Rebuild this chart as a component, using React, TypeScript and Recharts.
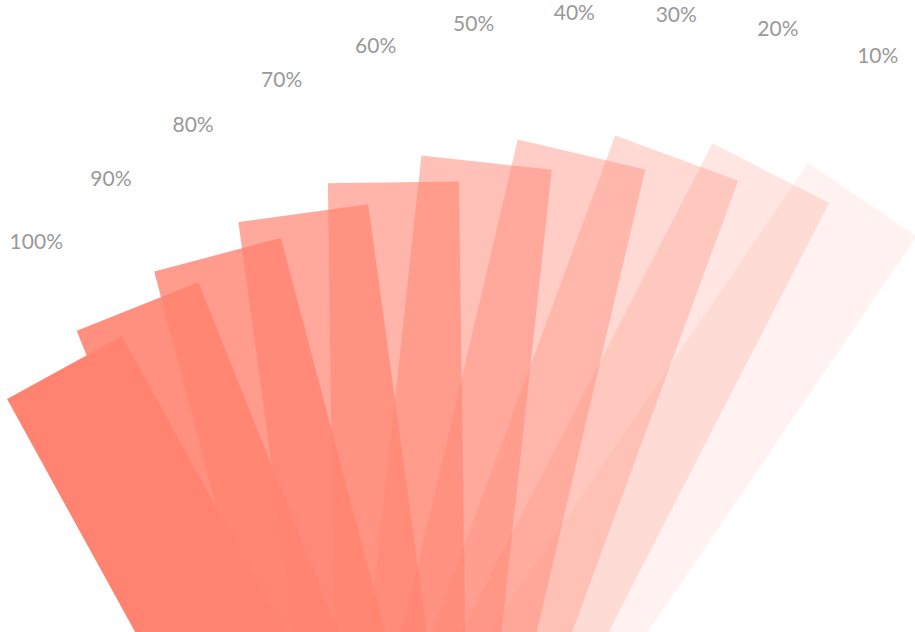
import { PolarAngleAxis, PolarRadiusAxis, RadialBar, RadialBarChart } from 'recharts'

// one card per share, fanned out from 100% (left) to 10% (right)
const labels = ['100%', '90%', '80%', '70%', '60%', '50%', '40%', '30%', '20%', '10%']
const shares = [100, 90, 80, 70, 60, 50, 40, 30, 20, 10]

const data = labels.map((label, i) => ({ label, share: shares[i] }))

const WIDTH = 915
const HEIGHT = 632
const CARD_COLOR = '#ff8370'
const LABEL_COLOR = '#999999'

// card geometry, relative to the fan pivot before rotation
const CARD_LEFT = -262
const CARD_TOP = -755
const CARD_WIDTH = 131
const CARD_LENGTH = 620

// labels sit on their own arc a little above the pivot
const LABEL_DX = 11.3
const LABEL_DY = -86.5
const LABEL_RADIUS = 835.6

function FanCard(props: any) {
  const { cx, cy, startAngle, endAngle, payload } = props
  const mid = (startAngle + endAngle) / 2
  const rot = 90 - mid
  // label arc turns a bit slower than the cards and spreads out at the ends
  const t = (rot + 28.6) / 7
  const deg = -43.62 + 6.9 * t + 0.0242 * ((t - 4.5) ** 2 - 8.25)
  const labelAngle = (deg * Math.PI) / 180
  const lx = cx + LABEL_DX + LABEL_RADIUS * Math.sin(labelAngle)
  const ly = cy + LABEL_DY - LABEL_RADIUS * Math.cos(labelAngle)

  return (
    <g>
      <rect
        transform={`rotate(${rot} ${cx} ${cy})`}
        x={cx + CARD_LEFT}
        y={cy + CARD_TOP}
        width={CARD_WIDTH}
        height={CARD_LENGTH}
        fill={CARD_COLOR}
        fillOpacity={payload.share / 100}
      />
      <text
        x={lx}
        y={ly - 1.5}
        textAnchor="middle"
        dominantBaseline="central"
        fontFamily="Lato, 'Open Sans', sans-serif"
        fontSize={21}
        fill={LABEL_COLOR}
      >
        {payload.label}
      </text>
    </g>
  )
}

export default function App() {
  return (
    <div style={{ width: WIDTH, height: HEIGHT, background: '#fff', overflow: 'hidden' }}>
      <style>{'body{margin:0}'}</style>
      <RadialBarChart
        width={WIDTH}
        height={HEIGHT}
        data={data}
        layout="centric"
        cx={600.4}
        cy={934.5}
        innerRadius={0}
        outerRadius={800}
        startAngle={115.1}
        endAngle={45.1}
        margin={{ top: 0, right: 0, bottom: 0, left: 0 }}
      >
        <PolarAngleAxis type="category" dataKey="label" tick={false} axisLine={false} />
        <PolarRadiusAxis type="number" domain={[0, 100]} tick={false} axisLine={false} />
        <RadialBar dataKey="share" shape={FanCard} isAnimationActive={false} />
      </RadialBarChart>
    </div>
  )
}
